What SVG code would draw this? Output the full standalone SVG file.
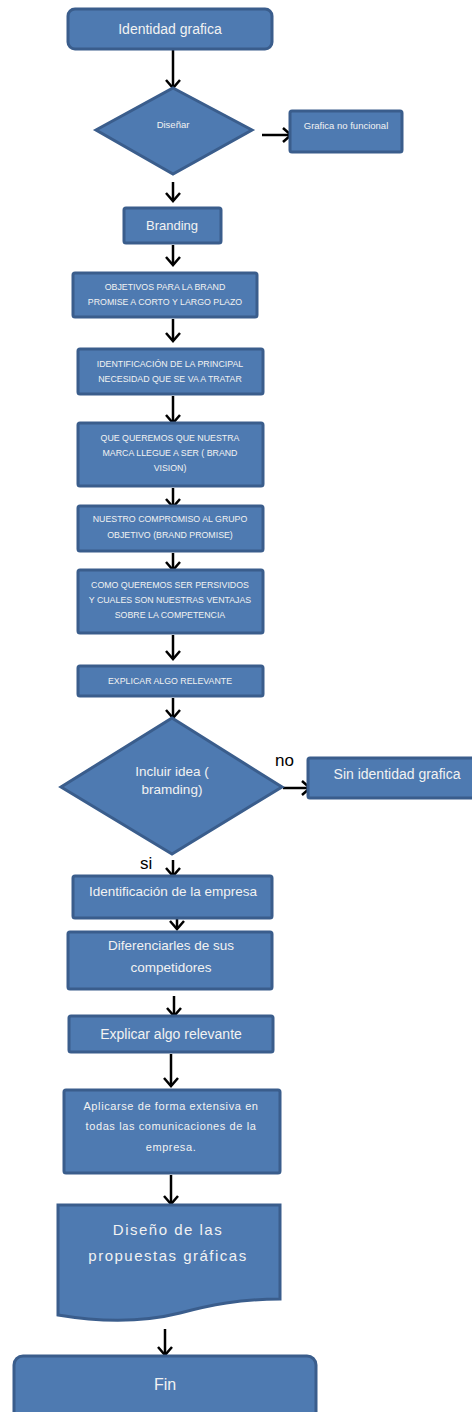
<svg xmlns="http://www.w3.org/2000/svg" width="472" height="1412" viewBox="0 0 472 1412">
<defs>
<style>
.n{fill:#4E7AB1;stroke:#3A5D8C;stroke-width:3}
.t{fill:#F2F2F2;font-family:"Liberation Sans",Arial,sans-serif;text-anchor:middle}
.c{stroke:#000;stroke-width:2.5;fill:none}
.lbl{fill:#000;font-family:"Liberation Sans",Arial,sans-serif;font-size:17px}
</style>
<marker id="ah" markerUnits="userSpaceOnUse" markerWidth="16" markerHeight="16" refX="12" refY="8" orient="auto" viewBox="0 0 16 16">
<path d="M4,1 L12,8 L4,15" fill="none" stroke="#000" stroke-width="2.5"/>
</marker>
</defs>
<rect width="472" height="1412" fill="#fff"/>
<g id="connectors">
<line class="c" x1="173" y1="50" x2="173" y2="88" marker-end="url(#ah)"/>
<line class="c" x1="262" y1="135" x2="291" y2="135" marker-end="url(#ah)"/>
<line class="c" x1="173" y1="182" x2="173" y2="201" marker-end="url(#ah)"/>
<line class="c" x1="173" y1="245" x2="173" y2="265" marker-end="url(#ah)"/>
<line class="c" x1="173" y1="319" x2="173" y2="341" marker-end="url(#ah)"/>
<line class="c" x1="173" y1="396" x2="173" y2="423" marker-end="url(#ah)"/>
<line class="c" x1="173" y1="488" x2="173" y2="507" marker-end="url(#ah)"/>
<line class="c" x1="173" y1="553" x2="173" y2="570" marker-end="url(#ah)"/>
<line class="c" x1="173" y1="635" x2="173" y2="659" marker-end="url(#ah)"/>
<line class="c" x1="173" y1="698" x2="173" y2="718" marker-end="url(#ah)"/>
<line class="c" x1="283" y1="788" x2="310" y2="788" marker-end="url(#ah)"/>
<line class="c" x1="173" y1="860" x2="173" y2="876" marker-end="url(#ah)"/>
<line class="c" x1="177" y1="919" x2="177" y2="929" marker-end="url(#ah)"/>
<line class="c" x1="174" y1="996" x2="174" y2="1016" marker-end="url(#ah)"/>
<line class="c" x1="171" y1="1054" x2="171" y2="1086" marker-end="url(#ah)"/>
<line class="c" x1="171" y1="1175" x2="171" y2="1204" marker-end="url(#ah)"/>
<line class="c" x1="165" y1="1329" x2="165" y2="1355" marker-end="url(#ah)"/>
</g>
<g id="labels">
<text class="lbl" x="275" y="766">no</text>
<text class="lbl" x="140" y="869">si</text>
</g>
<g id="n1"><rect class="n" x="68" y="9" width="204" height="40" rx="7"/><text class="t" x="170" y="34" font-size="14">Identidad grafica</text></g>
<g id="n2"><polygon class="n" points="173,88 252,130 173,174 96,130"/><text class="t" x="173" y="128" font-size="9.5">Diseñar</text></g>
<g id="n3"><rect class="n" x="290" y="111" width="112" height="41" rx="2"/><text class="t" x="346" y="129" font-size="9.5">Grafica no funcional</text></g>
<g id="n4"><rect class="n" x="124" y="208" width="97" height="35" rx="2"/><text class="t" x="172" y="230" font-size="13">Branding</text></g>
<g id="n5"><rect class="n" x="73" y="273" width="184" height="44" rx="2"/><text class="t" font-size="8.8"><tspan x="165" y="290">OBJETIVOS PARA LA BRAND</tspan><tspan x="165" y="305">PROMISE A CORTO Y LARGO PLAZO</tspan></text></g>
<g id="n6"><rect class="n" x="78" y="349" width="185" height="45" rx="2"/><text class="t" font-size="8.8"><tspan x="170" y="367">IDENTIFICACIÓN DE LA PRINCIPAL</tspan><tspan x="170" y="382">NECESIDAD QUE SE  VA A TRATAR</tspan></text></g>
<g id="n7"><rect class="n" x="78" y="423" width="185" height="63" rx="2"/><text class="t" font-size="8.8"><tspan x="170" y="441">QUE QUEREMOS QUE NUESTRA</tspan><tspan x="170" y="456">MARCA LLEGUE A SER ( BRAND</tspan><tspan x="170" y="471">VISION)</tspan></text></g>
<g id="n8"><rect class="n" x="78" y="506" width="185" height="45" rx="2"/><text class="t" font-size="8.8"><tspan x="170" y="522">NUESTRO COMPROMISO AL GRUPO</tspan><tspan x="170" y="538">OBJETIVO (BRAND PROMISE)</tspan></text></g>
<g id="n9"><rect class="n" x="78" y="570" width="185" height="63" rx="2"/><text class="t" font-size="8.8"><tspan x="170" y="588">COMO QUEREMOS SER PERSIVIDOS</tspan><tspan x="170" y="603">Y CUALES SON NUESTRAS VENTAJAS</tspan><tspan x="170" y="618">SOBRE LA COMPETENCIA</tspan></text></g>
<g id="n10"><rect class="n" x="78" y="666" width="185" height="30" rx="2"/><text class="t" x="170" y="684" font-size="8.8">EXPLICAR ALGO RELEVANTE</text></g>
<g id="n11"><polygon class="n" points="172,718 282,787 172,854 61,787"/><text class="t" font-size="13.5"><tspan x="172" y="776">Incluir  idea (</tspan><tspan x="172" y="794">bramding)</tspan></text></g>
<g id="n12"><rect class="n" x="308" y="758" width="168" height="40" rx="2"/><text class="t" x="397" y="779" font-size="14">Sin identidad grafica</text></g>
<g id="n13"><rect class="n" x="73" y="876" width="199" height="42" rx="2"/><text class="t" x="173" y="896" font-size="13.5">Identificación de la empresa</text></g>
<g id="n14"><rect class="n" x="68" y="932" width="204" height="57" rx="2"/><text class="t" font-size="13.5"><tspan x="171" y="950">Diferenciarles de sus</tspan><tspan x="171" y="972">competidores</tspan></text></g>
<g id="n15"><rect class="n" x="69" y="1016" width="204" height="36" rx="2"/><text class="t" x="171" y="1039" font-size="14">Explicar algo relevante</text></g>
<g id="n16"><rect class="n" x="64" y="1090" width="216" height="83" rx="2"/><text class="t" font-size="11" letter-spacing="0.6"><tspan x="171" y="1110">Aplicarse de forma extensiva en</tspan><tspan x="171" y="1130">todas las comunicaciones de la</tspan><tspan x="171" y="1151">empresa.</tspan></text></g>
<g id="n17"><path class="n" d="M58,1205 L280,1205 L280,1299 C240,1299 210,1305 180,1313 C140,1323 100,1322 58,1315 Z"/><text class="t" font-size="15" letter-spacing="1.5"><tspan x="168" y="1235">Diseño de las</tspan><tspan x="168" y="1261">propuestas gráficas</tspan></text></g>
<g id="n18"><rect class="n" x="14" y="1356" width="302" height="70" rx="9"/><text class="t" x="165" y="1390" font-size="16">Fin</text></g>
</svg>
